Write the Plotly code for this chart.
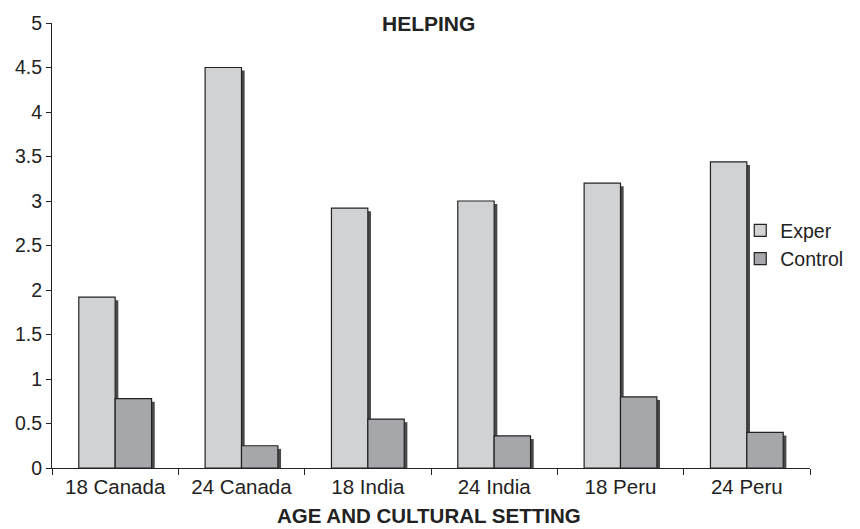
import plotly.graph_objects as go

categories = ["18 Canada", "24 Canada", "18 India", "24 India", "18 Peru", "24 Peru"]
exper = [1.92, 4.50, 2.92, 3.00, 3.20, 3.44]
control = [0.78, 0.25, 0.55, 0.36, 0.80, 0.40]
y_ticks = [0, 0.5, 1, 1.5, 2, 2.5, 3, 3.5, 4, 4.5, 5]
y_ticktext = ["0", "0.5", "1", "1.5", "2", "2.5", "3", "3.5", "4", "4.5", "5"]

FONT = "Liberation Sans, Arial, sans-serif"
BW = 0.288      # bar width in category units
SW = 0.025      # shadow width
SDROP = 0.035   # shadow drop in data units
SHADOW = "#4a4a4a"

fig = go.Figure()
# shadows
fig.add_trace(go.Bar(x=categories, y=[v - SDROP for v in exper], width=SW, offset=0.0,
                     marker=dict(color=SHADOW, line=dict(width=0)), showlegend=False, hoverinfo="skip"))
fig.add_trace(go.Bar(x=categories, y=[v - SDROP for v in control], width=SW, offset=BW,
                     marker=dict(color=SHADOW, line=dict(width=0)), showlegend=False, hoverinfo="skip"))
# bars
fig.add_trace(go.Bar(x=categories, y=exper, width=BW, offset=-BW, name="Exper",
                     marker=dict(color="#d1d2d4", line=dict(color="#222222", width=1.2))))
fig.add_trace(go.Bar(x=categories, y=control, width=BW, offset=0.0, name="Control",
                     marker=dict(color="#a6a7aa", line=dict(color="#222222", width=1.2))))

fig.update_layout(
    width=860, height=529,
    margin=dict(l=52, r=38, t=21, b=61),
    barmode="overlay",
    plot_bgcolor="white", paper_bgcolor="white",
    font=dict(family=FONT, size=19, color="#222222"),
    legend=dict(x=0.908, y=0.502, xanchor="left", yanchor="middle",
                bgcolor="rgba(0,0,0,0)", font=dict(size=19.5), tracegroupgap=0,
                itemwidth=30),
    xaxis=dict(type="category", showline=True, linecolor="#222222", linewidth=1,
               ticks="outside", tickson="boundaries", ticklen=6, tickcolor="#222222",
               showgrid=False, range=[-0.5, 5.5], tickfont=dict(size=20.5)),
    yaxis=dict(range=[0, 5], showline=True, linecolor="#222222", linewidth=1,
               ticks="outside", ticklen=5, tickcolor="#222222", showgrid=False,
               tickvals=y_ticks, ticktext=y_ticktext, zeroline=False, tickfont=dict(size=19.5)),
    annotations=[
        dict(text="<b>HELPING</b>", x=0.497, y=1.0, xref="paper", yref="paper",
             xanchor="center", yanchor="middle", showarrow=False, font=dict(size=21)),
        dict(text="<b>AGE AND CULTURAL SETTING</b>", x=0.498, y=-0.107, xref="paper", yref="paper",
             xanchor="center", yanchor="middle", showarrow=False, font=dict(size=20.5)),
    ],
)

fig.write_html("out.html", config={"displayModeBar": False},
               post_script="document.body.style.margin='0';document.body.style.overflow='hidden';")
